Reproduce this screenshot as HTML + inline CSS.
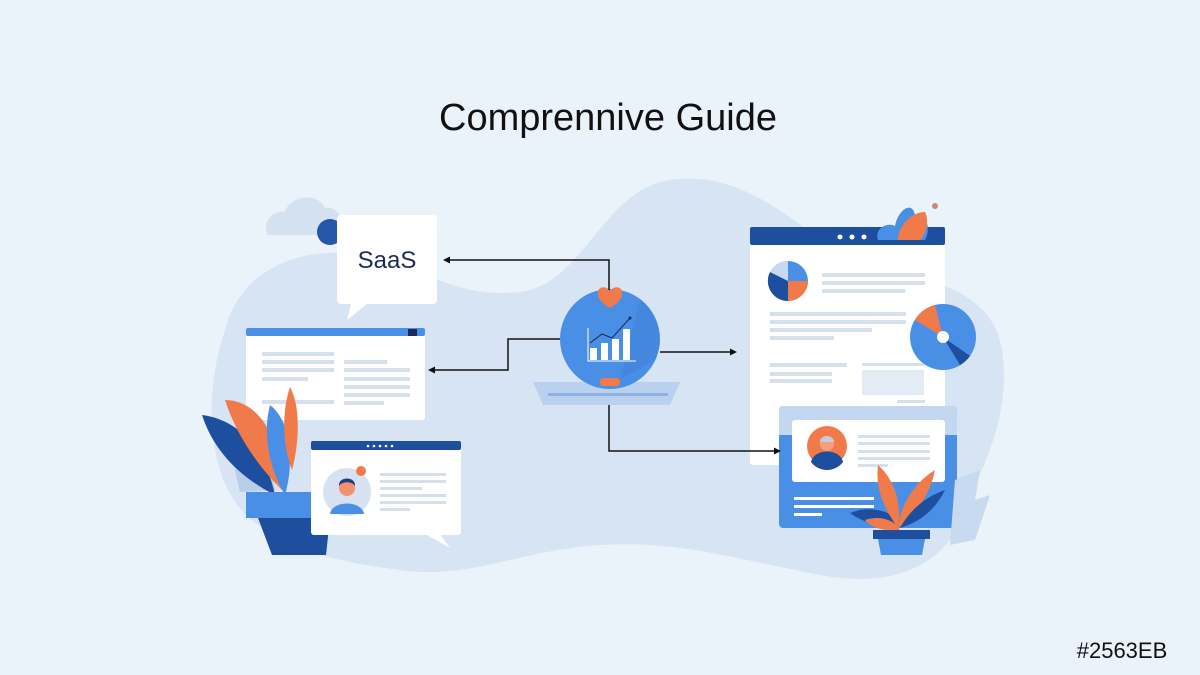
<!DOCTYPE html>
<html><head><meta charset="utf-8"><style>
html,body{margin:0;padding:0;background:#EAF2FA;}
svg{display:block;}
</style></head><body>
<svg width="1200" height="675" viewBox="0 0 1200 675" xmlns="http://www.w3.org/2000/svg" font-family="Liberation Sans, sans-serif">
<rect width="1200" height="675" fill="#EAF2FA"/>
<!-- blob -->
<path d="M225 330 C240 270 300 245 360 255 C420 262 450 300 520 292 C580 285 600 200 660 182 C720 168 770 200 820 240 C880 280 990 270 1002 350 C1012 420 980 470 965 510 C950 560 900 590 820 575 C740 560 680 540 600 545 C520 550 470 580 400 570 C320 560 240 540 220 470 C205 420 212 370 225 330 Z" fill="#D6E4F4"/>
<!-- cloud -->
<path d="M268 235 C262 222 272 210 285 212 C290 195 318 192 325 208 C340 206 346 222 338 235 Z" fill="#D3E1F1"/>
<!-- SaaS bubble -->
<circle cx="330" cy="232" r="13" fill="#2457A8"/>
<rect x="337" y="215" width="100" height="89" rx="4" fill="#fff"/>
<path d="M352 300 L347 320 L372 300 Z" fill="#fff"/>
<text x="387" y="268" text-anchor="middle" font-size="24" fill="#1B2A57">SaaS</text>
<!-- left window -->
<rect x="246" y="328" width="179" height="92" rx="3" fill="#fff"/>
<rect x="246" y="328" width="179" height="8" rx="2" fill="#4A8FE6"/>
<rect x="408" y="329" width="9" height="7" fill="#1B2A57"/>
<g fill="#D6E0EC">
<rect x="262" y="352" width="72" height="4"/><rect x="262" y="360" width="72" height="4"/><rect x="262" y="368" width="72" height="4"/><rect x="262" y="377" width="46" height="4"/>
<rect x="344" y="360" width="43" height="4"/><rect x="344" y="368" width="66" height="4"/><rect x="344" y="377" width="66" height="4"/><rect x="344" y="385" width="66" height="4"/><rect x="344" y="393" width="66" height="4"/><rect x="344" y="401" width="40" height="4"/>
<rect x="262" y="400" width="72" height="4"/>
</g>
<!-- left plant -->
<path d="M235 470 C240 455 260 455 270 462 L275 490 L240 492 Z" fill="#B8CFEC"/>
<path d="M202 415 C240 420 265 450 275 495 C245 480 215 455 202 415 Z" fill="#1E4E9E"/>
<path d="M225 400 C255 400 280 430 282 490 C262 470 238 440 225 400 Z" fill="#F07A4A"/>
<path d="M270 405 C290 420 295 460 285 495 C270 470 262 435 270 405 Z" fill="#4A8FE6"/>
<path d="M290 387 C300 405 300 440 292 470 C282 445 282 410 290 387 Z" fill="#F07A4A"/>
<rect x="246" y="492" width="84" height="26" fill="#4A8FE6"/>
<path d="M258 518 L330 518 L326 555 L272 555 Z" fill="#1E4E9E"/>
<!-- bottom-left window -->
<rect x="311" y="441" width="150" height="94" rx="3" fill="#fff"/>
<path d="M425 534 L450 548 L440 534 Z" fill="#fff"/>
<rect x="311" y="441" width="150" height="9" rx="2" fill="#1E4E9E"/>
<g fill="#fff"><circle cx="368" cy="446" r="1.3"/><circle cx="374" cy="446" r="1.3"/><circle cx="380" cy="446" r="1.3"/><circle cx="386" cy="446" r="1.3"/><circle cx="392" cy="446" r="1.3"/></g>
<circle cx="347" cy="492" r="24" fill="#D6E2F2"/>
<circle cx="361" cy="471" r="5" fill="#F07A4A"/>
<path d="M330 514 C332 500 362 500 364 514 Z" fill="#4A8FE6"/>
<circle cx="347" cy="488" r="8" fill="#F39070"/>
<path d="M339 486 C338 476 356 476 355 486 C352 481 342 481 339 486 Z" fill="#1E3E7E"/>
<g fill="#D6E0EC"><rect x="380" y="473" width="66" height="3"/><rect x="380" y="480" width="66" height="3"/><rect x="380" y="487" width="42" height="3"/><rect x="380" y="494" width="66" height="3"/><rect x="380" y="501" width="66" height="3"/><rect x="380" y="508" width="30" height="3"/></g>
<!-- center -->
<path d="M533 382 L680 382 L670 405 L543 405 Z" fill="#B9D0EE"/>
<rect x="548" y="393" width="120" height="3" fill="#8EB2E4"/>
<circle cx="610" cy="339" r="50" fill="#4A8FE6"/>
<path d="M640 300 A50 50 0 0 1 655 360 L620 380 Z" fill="#3F82D8" opacity="0.6"/>
<path d="M598 296 C596 286 606 285 610 291 C614 285 624 286 622 296 C620 302 613 306 610 308 C607 306 600 302 598 296 Z" fill="#F07A4A"/>
<rect x="600" y="378" width="20" height="8" rx="3" fill="#F07A4A"/>
<g fill="#fff"><rect x="590" y="348" width="7" height="12"/><rect x="601" y="343" width="7" height="17"/><rect x="612" y="339" width="7" height="21"/><rect x="623" y="329" width="7" height="31"/></g>
<path d="M588 328 L588 361 L636 361" stroke="#fff" stroke-width="1" fill="none"/>
<path d="M590 343 L602 334 L612 338 L630 318" stroke="#1B2A57" stroke-width="1" fill="none"/>
<circle cx="630" cy="318" r="1.5" fill="#1B2A57"/>
<!-- right big window -->
<rect x="750" y="227" width="195" height="238" rx="3" fill="#fff"/>
<rect x="750" y="227" width="195" height="18" rx="2" fill="#1E4E9E"/>
<g fill="#fff"><circle cx="840" cy="237" r="2.5"/><circle cx="852" cy="237" r="2.5"/><circle cx="864" cy="237" r="2.5"/></g>
<path d="M878 240 C874 228 888 222 895 226 C898 210 912 200 915 215 C925 210 932 228 925 240 Z" fill="#4A8FE6"/>
<path d="M898 240 C898 225 912 212 925 212 C930 222 925 236 920 240 Z" fill="#F07A4A"/>
<circle cx="935" cy="206" r="3" fill="#C9897A"/>
<circle cx="788" cy="281" r="20" fill="#4A8FE6"/>
<path d="M788 281 L788 301 A20 20 0 0 1 770 272 Z" fill="#1E4E9E"/>
<path d="M788 281 L808 281 A20 20 0 0 1 788 301 Z" fill="#F07A4A"/>
<path d="M788 281 L770 272 A20 20 0 0 1 788 261 Z" fill="#C6D8F2"/>
<g fill="#D6E0EC"><rect x="822" y="273" width="103" height="4"/><rect x="822" y="281" width="103" height="4"/><rect x="822" y="289" width="83" height="4"/>
<rect x="770" y="312" width="136" height="4"/><rect x="770" y="320" width="136" height="4"/><rect x="770" y="328" width="102" height="4"/><rect x="770" y="336" width="64" height="4"/>
<rect x="770" y="363" width="77" height="4"/><rect x="770" y="372" width="62" height="4"/><rect x="770" y="379" width="62" height="4"/>
<rect x="862" y="363" width="62" height="3"/><rect x="862" y="370" width="62" height="25" fill="#E3EBF5"/><rect x="897" y="400" width="28" height="3"/></g>
<circle cx="943" cy="337" r="33" fill="#4A8FE6"/>
<path d="M943 337 L915 320 A33 33 0 0 1 935 305 Z" fill="#F07A4A"/>
<path d="M943 337 L970 356 A33 33 0 0 1 960 365 Z" fill="#1E4E9E"/>
<circle cx="943" cy="337" r="6" fill="#fff"/>
<!-- bottom right card -->
<rect x="779" y="406" width="178" height="122" rx="4" fill="#4A8FE6"/>
<path d="M779 410 a4 4 0 0 1 4 -4 h170 a4 4 0 0 1 4 4 v25 h-178 Z" fill="#C3D7F1"/>
<rect x="792" y="420" width="153" height="62" rx="3" fill="#fff"/>
<circle cx="827" cy="446" r="20" fill="#F07A4A"/>
<path d="M811 462 C814 448 840 448 843 462 A20 20 0 0 1 811 462 Z" fill="#1E4E9E"/>
<circle cx="827" cy="444" r="7" fill="#F4A080"/>
<path d="M820 442 C820 434 834 434 834 442 Z" fill="#C8CCD6"/>
<g fill="#D6E0EC"><rect x="858" y="435" width="72" height="3"/><rect x="858" y="442" width="72" height="3"/><rect x="858" y="450" width="72" height="3"/><rect x="858" y="457" width="72" height="3"/><rect x="858" y="464" width="30" height="3"/></g>
<g fill="#fff"><rect x="794" y="497" width="80" height="3"/><rect x="794" y="505" width="80" height="3"/><rect x="794" y="513" width="28" height="3"/></g>
<path d="M955 480 L980 470 L975 500 L990 495 L975 540 L950 545 Z" fill="#C8DAF0"/>
<!-- right plant -->
<path d="M850 513 C870 505 890 510 905 525 C880 528 862 522 850 513 Z" fill="#1E4E9E"/>
<path d="M878 465 C895 480 902 505 898 528 C885 510 875 490 878 465 Z" fill="#F07A4A"/>
<path d="M935 470 C930 495 915 515 898 528 C900 505 915 482 935 470 Z" fill="#F07A4A"/>
<path d="M945 490 C935 510 920 522 900 528 C910 510 925 497 945 490 Z" fill="#1E4E9E"/>
<path d="M865 520 C880 515 895 520 900 530 C885 532 872 528 865 520 Z" fill="#F07A4A"/>
<rect x="873" y="530" width="57" height="9" fill="#1E4E9E"/>
<path d="M878 539 L925 539 L922 555 L881 555 Z" fill="#4A8FE6"/>
<!-- connectors (on top) -->
<g stroke="#111" stroke-width="1.5" fill="none">
<path d="M609 290 L609 260 L447 260"/>
<path d="M560 339 L508 339 L508 370 L432 370"/>
<path d="M660 352 L733 352"/>
<path d="M609 405 L609 451 L777 451"/>
</g>
<g fill="#111">
<path d="M443 260 L450 256.5 L450 263.5 Z"/>
<path d="M428 370 L435 366.5 L435 373.5 Z"/>
<path d="M737 352 L730 348.5 L730 355.5 Z"/>
<path d="M781 451 L774 447.5 L774 454.5 Z"/>
</g>
<!-- text -->
<text x="608" y="130" text-anchor="middle" font-size="38" fill="#111">Comprennive Guide</text>
<text x="1122" y="658" text-anchor="middle" font-size="22" fill="#111">#2563EB</text>
</svg>
</body></html>
